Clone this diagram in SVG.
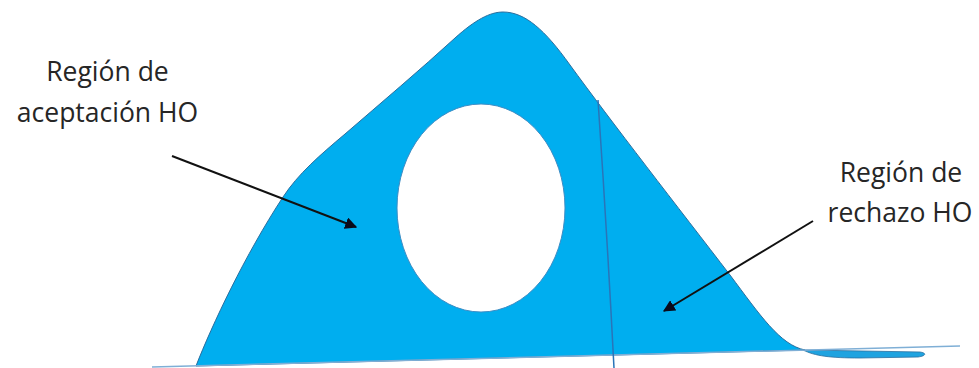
<svg xmlns="http://www.w3.org/2000/svg" width="979" height="368" viewBox="0 0 979 368">
<defs>
<style>
.lbl{font-family:"Open Sans","Liberation Sans",sans-serif;font-size:26.5px;fill:#262626;text-anchor:middle}
.blue{fill:#00AEEF;stroke:#2B6E9E;stroke-width:1}
.arrow{stroke:#111;stroke-width:2;fill:none;marker-end:url(#ah)}
</style>
<marker id="ah" viewBox="0 0 10 10" refX="9" refY="5" markerWidth="6" markerHeight="6" orient="auto" markerUnits="strokeWidth">
<path d="M0,0 L10,5 L0,10 Z" fill="#0a0a1a"/>
</marker>
</defs>
<rect width="979" height="368" fill="#fff"/>
<g id="curve">
<path class="blue" d="M196,366 C212,325 245,255 283,197 C298,174 320,155 345,134 C382,102 420,70 455,38 C475,20 490,12 503,12 C525,12 545,30 570,65 C610,120 680,210 730,275 C760,315 780,345 805,350 L196,366 Z"/>
<path d="M803,350 C815,356 830,358 860,358 L918,357 C926,356 927,353 920,352 L805,350 Z" fill="#1fa3e0" stroke="#2B6E9E" stroke-width="0.8"/>
<line x1="152" y1="367" x2="960" y2="346" stroke="#7FAFD6" stroke-width="1.5"/>
<path d="M598,100 Q607,232 614,368" fill="none" stroke="#2A74B8" stroke-width="1.5"/>
<ellipse id="hole" cx="481" cy="208" rx="84" ry="104" fill="#fff" stroke="#3C8CC4" stroke-width="1"/>
</g>
<g id="label-aceptacion">
<text class="lbl" x="107.5" y="81">Región de</text>
<text class="lbl" x="107.5" y="122">aceptación HO</text>
</g>
<g id="label-rechazo">
<text class="lbl" x="901" y="182">Región de</text>
<text class="lbl" x="900" y="222">rechazo HO</text>
</g>
<g id="connectors">
<line class="arrow" x1="172" y1="156" x2="356" y2="227"/>
<line class="arrow" x1="813" y1="221" x2="664" y2="311"/>
</g>
</svg>
